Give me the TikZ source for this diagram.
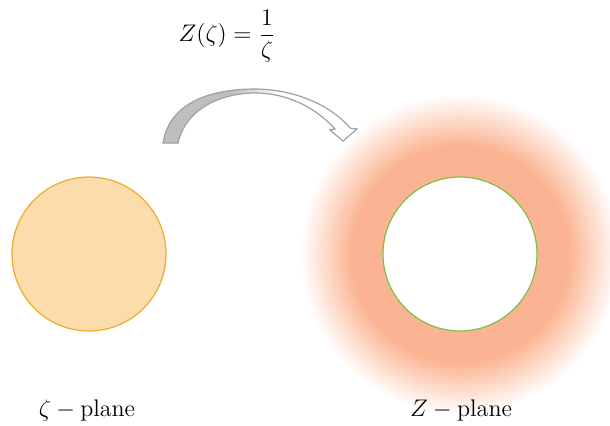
\documentclass[tikz,border=0pt]{standalone}
\usepackage{amsmath,amssymb}
\usetikzlibrary{positioning}
\usepackage{xcolor}
\definecolor{diskfill}{RGB}{252,219,172}
\definecolor{diskline}{RGB}{236,172,44}
\definecolor{halo}{RGB}{251,180,147}
\definecolor{halofade}{RGB}{253,218,201}
\definecolor{ringline}{RGB}{124,194,66}
\definecolor{arrowgray}{RGB}{190,190,190}
\definecolor{arrowline}{RGB}{160,160,160}
\pgfdeclareradialshading{haloshade}{\pgfpoint{0bp}{0bp}}{color(0bp)=(halo); color(17bp)=(halo); color(21bp)=(halofade); color(25bp)=(white); color(50bp)=(white)}
\pgfdeclarehorizontalshading{arrowshade}{100bp}{color(0bp)=(arrowgray); color(43bp)=(arrowgray); color(55bp)=(white); color(100bp)=(white)}

\begin{document}
\begin{tikzpicture}[x=0.5pt,y=-0.5pt,
    disk/.style={circle,minimum size=77pt,inner sep=0pt,line width=0.6pt},
    label/.style={font=\large}]
\useasboundingbox (0,0) rectangle (610,425);
% glow round the image of the disk
\shade[shading=haloshade] (460,254) circle (160);
\node[disk,fill=diskfill,draw=diskline] (zetadisk) at (89,254) {};
\node[disk,fill=white,draw=ringline] (zdisk) at (460,254) {};
% the mapping arrow
\shade[shading=arrowshade,draw=arrowline,line width=0.6pt]
  (163,143) .. controls (170,100) and (215,89) .. (255,89)
  .. controls (292,89) and (330,104) .. (350,128)
  -- (357,129) -- (343,141) -- (330,130) -- (335,129)
  .. controls (316,108) and (288,93) .. (255,93)
  .. controls (222,93) and (186,108) .. (178,143) -- cycle;
\node[label] (map) at (227,36) {$Z(\zeta)=\dfrac{1}{\zeta}$};
\node[label] (zetalabel) at (87,410) {$\zeta-\text{plane}$};
\node[label] (zlabel) at (461,410) {$Z-\text{plane}$};
\end{tikzpicture}
\end{document}
